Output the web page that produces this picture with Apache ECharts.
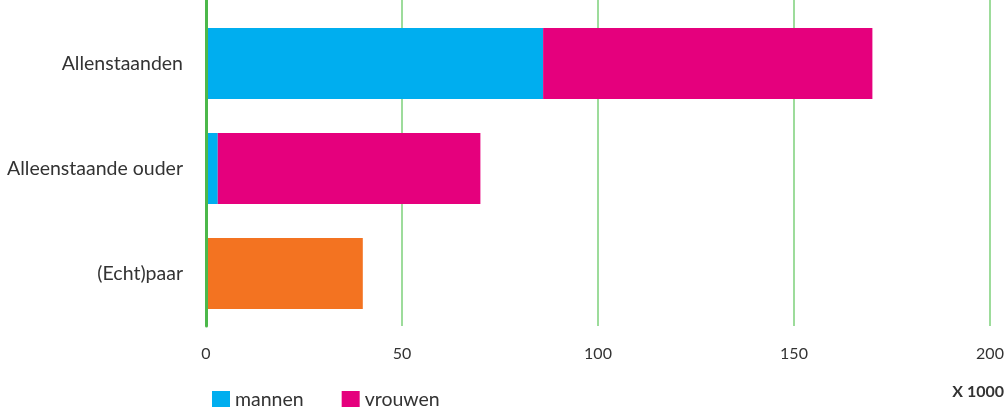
<!DOCTYPE html>
<html>
<head>
<meta charset="utf-8">
<script src="https://cdn.jsdelivr.net/npm/echarts@6/dist/echarts.min.js"></script>
<style>
  html, body { margin: 0; padding: 0; background: #fff; }
  #chart { width: 1008px; height: 407px; }
</style>
</head>
<body>
<div id="chart"></div>
<script>
// huishoudtypes, top to bottom
const categories = ["Allenstaanden", "Alleenstaande ouder", "(Echt)paar"];
const mannen = [86, 3, null];
const vrouwen = [84, 67, null];
const paren = [null, null, 40];
const xTicks = [0, 50, 100, 150, 200];

const chart = echarts.init(document.getElementById("chart"));
const font = "Lato, 'Noto Sans', sans-serif";

const gridLine = { show: true, lineStyle: { color: "#7dd17a", width: 1.5 } };
const axisLine = { show: true, lineStyle: { color: "#4cb84a", width: 3 } };

chart.setOption({
  animation: false,
  textStyle: { fontFamily: font },
  grid: [
    { left: 206, right: 18, top: 11, bottom: 81, containLabel: false },
    // thin strip above the plot so the lines run to the top edge
    { left: 206, right: 18, top: 0, height: 11, containLabel: false },
  ],
  legend: {
    left: 212,
    top: 390,
    padding: 0,
    itemWidth: 18,
    itemHeight: 18,
    itemGap: 38,
    icon: "rect",
    data: ["mannen", "vrouwen"],
    textStyle: { fontSize: 19.5, color: "#333", fontFamily: font },
  },
  graphic: [
    {
      type: "text",
      right: 4,
      top: 384,
      style: { text: "X 1000", fontSize: 16, fontWeight: "bold", fill: "#333", fontFamily: font },
    },
  ],
  xAxis: [
    {
      type: "value",
      gridIndex: 0,
      min: xTicks[0],
      max: xTicks[xTicks.length - 1],
      interval: 50,
      axisLine: { show: false },
      axisTick: { show: false },
      splitLine: gridLine,
      axisLabel: { fontSize: 16, color: "#333", margin: 20, fontFamily: font },
    },
    {
      type: "value",
      gridIndex: 1,
      min: xTicks[0],
      max: xTicks[xTicks.length - 1],
      interval: 50,
      axisLine: { show: false },
      axisTick: { show: false },
      axisLabel: { show: false },
      splitLine: gridLine,
    },
  ],
  yAxis: [
    {
      type: "category",
      gridIndex: 0,
      inverse: true,
      data: categories,
      z: 5,
      axisLine: axisLine,
      axisTick: { show: false },
      axisLabel: { fontSize: 19.5, color: "#333", margin: 23, fontFamily: font },
    },
    {
      type: "category",
      gridIndex: 1,
      data: [""],
      axisLine: axisLine,
      axisTick: { show: false },
      axisLabel: { show: false },
    },
  ],
  series: [
    {
      name: "mannen",
      type: "bar",
      stack: "total",
      barWidth: 71,
      itemStyle: { color: "#00aeef" },
      data: mannen,
    },
    {
      name: "vrouwen",
      type: "bar",
      stack: "total",
      barWidth: 71,
      itemStyle: { color: "#e5007d" },
      data: vrouwen,
    },
    {
      name: "paren",
      type: "bar",
      stack: "total",
      barWidth: 71,
      itemStyle: { color: "#f37321" },
      data: paren,
    },
  ],
});
</script>
</body>
</html>
